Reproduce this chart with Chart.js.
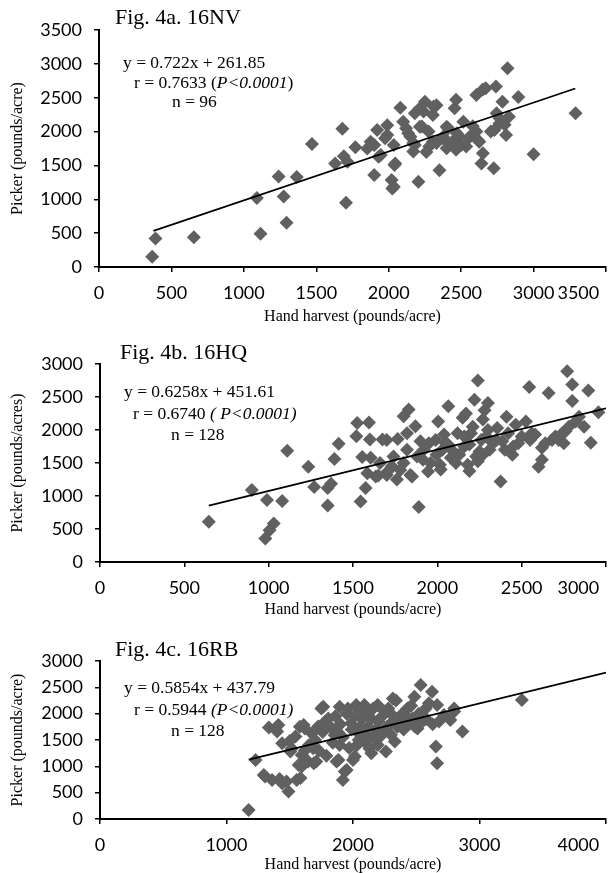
<!DOCTYPE html>
<html>
<head>
<meta charset="utf-8">
<title>Fig. 4 - Picker vs hand harvest</title>
<script src="https://cdn.jsdelivr.net/npm/chart.js@4.4.0/dist/chart.umd.min.js"></script>
<style>
	html, body { margin: 0; padding: 0; background: #fff; }
	body { width: 613px; height: 873px; position: relative; overflow: hidden; }
	.panel { position: absolute; left: 0; width: 613px; }
	.panel canvas { display: block; }
</style>
</head>
<body>

<div class="panel" style="top:0px;"><canvas id="chart-nv" width="613" height="325"></canvas></div>
<div class="panel" style="top:325px;"><canvas id="chart-hq" width="613" height="293"></canvas></div>
<div class="panel" style="top:618px;"><canvas id="chart-rb" width="613" height="255"></canvas></div>

<script>
"use strict";

// Fig. 4a. 16NV  (hand harvest vs picker, pounds/acre)
var nvHand = [367, 390, 655, 1090, 1115, 1240, 1275, 1295, 1365, 1470,
	1630, 1680, 1690, 1705, 1715, 1770, 1852, 1875, 1900, 1900,
	1920, 1930, 1945, 1975, 1990, 2020, 2025, 2035, 2035, 2040,
	2045, 2080, 2100, 2135, 2150, 2170, 2170, 2180, 2205, 2215,
	2215, 2230, 2240, 2250, 2260, 2275, 2305, 2305, 2310, 2330,
	2330, 2350, 2375, 2375, 2400, 2400, 2410, 2455, 2465, 2465,
	2470, 2490, 2500, 2515, 2535, 2550, 2560, 2605, 2605, 2615,
	2625, 2640, 2650, 2650, 2670, 2705, 2725, 2730, 2740, 2745,
	2765, 2765, 2785, 2810, 2820, 2830, 2800, 2895, 3000, 3290,
	2180, 2280, 1990, 2120, 2440, 2580];
var nvPicker = [150, 420, 440, 1020, 490, 1335, 1040, 655, 1330, 1815,
	1530, 2040, 1635, 950, 1555, 1770, 1750, 1850, 1360, 1800,
	2025, 1630, 1655, 1900, 2095, 1285, 1160, 1185, 1800, 1505,
	1530, 2350, 2145, 1975, 1925, 1705, 1830, 2270, 1260, 2345,
	2070, 2075, 2295, 2440, 1700, 2000, 1850, 2245, 2370, 2390,
	1830, 1430, 1900, 1925, 2070, 1755, 2050, 2345, 2470, 1730,
	1975, 1925, 1800, 2145, 1780, 1900, 1925, 2000, 2540, 1875,
	1850, 1530, 1680, 2620, 2640, 2000, 1460, 2025, 2665, 2270,
	2120, 2195, 2440, 1950, 2935, 2220, 2100, 2510, 1665, 2270,
	1800, 1780, 1950, 2050, 1850, 2080];
var nvTrendX = [376, 3288];
var nvTrendY = [533, 2636];

// Fig. 4b. 16HQ
var hqHand = [645, 900, 980, 990, 1005, 1030, 1080, 1110, 1235, 1270,
	1350, 1350, 1370, 1390, 1415, 1520, 1525, 1545, 1555, 1575,
	1585, 1595, 1600, 1635, 1650, 1675, 1700, 1705, 1740, 1765,
	1780, 1800, 1800, 1820, 1830, 1840, 1850, 1870, 1890, 1900,
	1915, 1920, 1945, 1960, 1995, 2005, 2015, 2030, 2050, 2065,
	2065, 2080, 2095, 2110, 2130, 2150, 2160, 2180, 2190, 2200,
	2210, 2220, 2230, 2240, 2240, 2250, 2260, 2270, 2270, 2290,
	2300, 2310, 2330, 2355, 2375, 2385, 2400, 2420, 2445, 2465,
	2480, 2500, 2525, 2545, 2560, 2580, 2600, 2620, 2640, 2660,
	2680, 2700, 2720, 2740, 2760, 2770, 2780, 2800, 2800, 2820,
	2840, 2895, 2910, 2955, 1660, 1730, 1760, 1880, 1990, 2120,
	2170, 2280, 2350, 2450, 2550, 1950, 2040, 2160, 2300, 2410,
	1820, 1700, 1605, 2020, 2190, 2620, 2870, 2750];
var hqPicker = [610, 1090, 355, 940, 480, 585, 925, 1685, 1445, 1135,
	855, 1120, 1185, 1560, 1790, 1905, 2105, 915, 1590, 1120,
	1345, 2115, 1855, 1295, 1310, 1855, 1320, 1370, 1600, 1865,
	1395, 2210, 1500, 1700, 2310, 1320, 1295, 2055, 835, 1830,
	1550, 1700, 1370, 1500, 1625, 2130, 1475, 1700, 1800, 2360,
	1775, 1580, 1675, 1500, 1625, 2185, 1750, 1475, 1780, 1950,
	2050, 2460, 1600, 2750, 1525, 1675, 1850, 2160, 1625, 1900,
	2410, 1700, 1800, 2030, 1220, 1830, 1700, 1950, 1625, 2080,
	1800, 1900, 2130, 2650, 1950, 1930, 1445, 1730, 1800, 2560,
	1850, 1900, 1850, 1950, 1980, 2890, 2050, 2690, 2440, 2130,
	2200, 2600, 1805, 2270, 1500, 1450, 1250, 1600, 1850, 1950,
	2250, 2300, 1850, 1750, 1850, 1800, 1930, 1900, 2000, 2200,
	1950, 1850, 1580, 1400, 1380, 1550, 2050, 1800];
var hqTrendX = [645, 3000];
var hqTrendY = [855, 2329];

// Fig. 4c. 16RB
var rbHand = [1175, 1230, 1295, 1305, 1335, 1360, 1400, 1410, 1420, 1440,
	1440, 1475, 1490, 1505, 1515, 1545, 1555, 1570, 1580, 1585,
	1595, 1595, 1610, 1620, 1645, 1675, 1685, 1690, 1710, 1725,
	1750, 1765, 1780, 1805, 1855, 1870, 1885, 1895, 1895, 1920,
	1935, 1950, 1960, 1985, 2000, 2015, 2025, 2040, 2045, 2055,
	2080, 2090, 2090, 2130, 2145, 2145, 2195, 2195, 2250, 2260,
	2300, 2315, 2340, 2330, 2380, 2430, 2470, 2485, 2510, 2535,
	2575, 2625, 2655, 2665, 2665, 2720, 2770, 2800, 2800, 2865,
	3335, 1650, 1700, 1730, 1760, 1790, 1820, 1840, 1860, 1880,
	1900, 1920, 1950, 1970, 1990, 2010, 2030, 2060, 2070, 2100,
	2110, 2120, 2150, 2160, 2180, 2200, 2210, 2230, 2240, 2270,
	2280, 2300, 2320, 2350, 2370, 2400, 2420, 2440, 2460, 2490,
	2520, 2550, 2580, 2600, 2630, 2680, 1620, 1500];
var rbPicker = [170, 1120, 835, 805, 1735, 740, 1660, 1785, 760, 1440,
	680, 710, 520, 1280, 1340, 1565, 740, 1025, 1750, 780,
	995, 1215, 1785, 1720, 1090, 1625, 1345, 1060, 1090, 1755,
	2100, 2130, 1850, 1910, 1595, 1090, 1120, 1405, 2130, 740,
	900, 930, 2100, 1820, 1120, 1185, 2165, 1660, 1500, 1600,
	2040, 2165, 1470, 1340, 1910, 1250, 2165, 1405, 2040, 1280,
	1820, 2290, 2250, 1470, 1975, 2100, 1910, 2320, 1720, 2545,
	2100, 2415, 1375, 1060, 2165, 1975, 1880, 2100, 2040, 1660,
	2260, 1400, 1500, 1300, 1650, 1200, 1750, 1450, 1950, 1650,
	1800, 1550, 2000, 1350, 1700, 1950, 1400, 1750, 1900, 1600,
	2050, 1750, 1550, 2100, 1700, 1850, 1550, 1950, 1650, 1750,
	2100, 1600, 1950, 1750, 1850, 1700, 1950, 1800, 2150, 1750,
	2000, 1850, 1900, 2200, 1800, 1850, 1300, 1480];
var rbTrendX = [1176, 4000];
var rbTrendY = [1126, 2780];

// axis ranges: [min, max, step]
var nvXTicks = [0, 3500, 500];
var nvYTicks = [0, 3500, 500];
var hqXTicks = [0, 3000, 500];
var hqYTicks = [0, 3000, 500];
var rbXTicks = [0, 4000, 1000];
var rbYTicks = [0, 3000, 500];


var serif = '"Liberation Serif", "Times New Roman", serif';
var sans = 'Lato, "Open Sans", sans-serif';

// draws the figure caption and the regression text inside the canvas
var figureNotes = {
	id: 'figureNotes',
	afterDraw: function(chart, args, opts) {
		var ctx = chart.ctx;
		ctx.save();
		ctx.fillStyle = '#000';
		ctx.textBaseline = 'middle';
		ctx.textAlign = 'left';
		(opts.lines || []).forEach(function(line) {
			var x = line.x;
			line.parts.forEach(function(part) {
				ctx.font = (part.italic ? 'italic ' : '') + line.size + 'px ' + serif;
				ctx.fillText(part.text, x, line.y);
				x += ctx.measureText(part.text).width;
			});
		});
		ctx.restore();
	}
};

function toPoints(xs, ys) {
	return xs.map(function(x, i) {
		return { x: x, y: ys[i] };
	});
}

// build one scatter panel
function buildPanel(canvasId, p) {
	var ctx = document.getElementById(canvasId).getContext('2d');
	var lastSpacer = '            ';

	return new Chart(ctx, {
		type: 'scatter',
		data: {
			datasets: [{
				type: 'line',
				data: toPoints(p.trendX, p.trendY),
				borderColor: '#000',
				borderWidth: 1.75,
				pointRadius: 0,
				fill: false,
				order: 1
			}, {
				type: 'scatter',
				data: toPoints(p.hand, p.picker),
				pointStyle: 'rectRot',
				pointRadius: 7,
				pointHoverRadius: 7,
				backgroundColor: '#606060',
				borderWidth: 0,
				order: 2
			}]
		},
		options: {
			responsive: false,
			animation: false,
			layout: {
				padding: { top: p.padTop, right: p.padRight, left: 0, bottom: 0 }
			},
			plugins: {
				legend: { display: false },
				tooltip: { enabled: false },
				figureNotes: { lines: p.notes }
			},
			scales: {
				x: {
					type: 'linear',
					min: p.xTicks[0],
					max: p.xTicks[1],
					border: { color: '#000', width: 2 },
					grid: { drawOnChartArea: false, tickLength: 5, color: '#000', lineWidth: 1.5 },
					ticks: {
						stepSize: p.xTicks[2],
						autoSkip: false,
						maxRotation: 0,
						minRotation: 0,
						padding: 10,
						color: '#000',
						font: { family: sans, size: 18 },
						// last label is pulled inside the plot edge, like the original
						callback: function(value, index, ticks) {
							return index === ticks.length - 1 ? String(value) + lastSpacer : String(value);
						}
					},
					title: {
						display: true,
						text: 'Hand harvest (pounds/acre)',
						color: '#000',
						font: { family: serif, size: 16, lineHeight: 1 },
						padding: { top: 0, bottom: 0 }
					},
					afterFit: function(scale) {
						scale.height = p.xHeight;
						scale.paddingLeft = 0;
						scale.paddingRight = 0;
					}
				},
				y: {
					type: 'linear',
					min: p.yTicks[0],
					max: p.yTicks[1],
					border: { color: '#000', width: 2 },
					grid: { drawOnChartArea: false, tickLength: 5, color: '#000', lineWidth: 1.5 },
					ticks: {
						stepSize: p.yTicks[2],
						padding: 12,
						color: '#000',
						font: { family: sans, size: 18 },
						callback: function(value) {
							return String(value);
						}
					},
					title: {
						display: true,
						text: p.yTitle,
						color: '#000',
						font: { family: serif, size: 16, lineHeight: 1 },
						padding: { top: 10, bottom: 0 }
					},
					afterFit: function(scale) {
						scale.width = p.yWidth;
						scale.paddingTop = 0;
						scale.paddingBottom = 0;
					}
				}
			}
		},
		plugins: [figureNotes]
	});
}


buildPanel('chart-nv', {
	hand: nvHand, picker: nvPicker, trendX: nvTrendX, trendY: nvTrendY,
	xTicks: nvXTicks, yTicks: nvYTicks,
	yTitle: 'Picker (pounds/acre)',
	padTop: 30, padRight: 2, xHeight: 58, yWidth: 99,
	notes: [
		{ x: 115, y: 18, size: 22, parts: [{ text: 'Fig. 4a. 16NV' }] },
		{ x: 123, y: 63, size: 17.5, parts: [{ text: 'y = 0.722x + 261.85' }] },
		{ x: 134, y: 83, size: 17.5, parts: [{ text: 'r = 0.7633 (' }, { text: 'P<0.0001', italic: true }, { text: ')' }] },
		{ x: 172, y: 102, size: 17.5, parts: [{ text: 'n = 96' }] }
	]
});

buildPanel('chart-hq', {
	hand: hqHand, picker: hqPicker, trendX: hqTrendX, trendY: hqTrendY,
	xTicks: hqXTicks, yTicks: hqYTicks,
	yTitle: 'Picker (pounds/acres)',
	padTop: 39, padRight: 2, xHeight: 56, yWidth: 100,
	notes: [
		{ x: 120, y: 28, size: 22, parts: [{ text: 'Fig. 4b. 16HQ' }] },
		{ x: 124, y: 67, size: 17.5, parts: [{ text: 'y = 0.6258x + 451.61' }] },
		{ x: 133, y: 89, size: 17.5, parts: [{ text: 'r = 0.6740 ' }, { text: '( P<0.0001)', italic: true }] },
		{ x: 171, y: 110, size: 17.5, parts: [{ text: 'n = 128' }] }
	]
});

buildPanel('chart-rb', {
	hand: rbHand, picker: rbPicker, trendX: rbTrendX, trendY: rbTrendY,
	xTicks: rbXTicks, yTicks: rbYTicks,
	yTitle: 'Picker (pounds/acre)',
	padTop: 43, padRight: 3, xHeight: 54, yWidth: 100,
	notes: [
		{ x: 115, y: 32, size: 22, parts: [{ text: 'Fig. 4c. 16RB' }] },
		{ x: 124, y: 70, size: 17.5, parts: [{ text: 'y = 0.5854x + 437.79' }] },
		{ x: 134, y: 92, size: 17.5, parts: [{ text: 'r = 0.5944 ' }, { text: '(P<0.0001)', italic: true }] },
		{ x: 171, y: 113, size: 17.5, parts: [{ text: 'n = 128' }] }
	]
});
</script>
</body>
</html>
